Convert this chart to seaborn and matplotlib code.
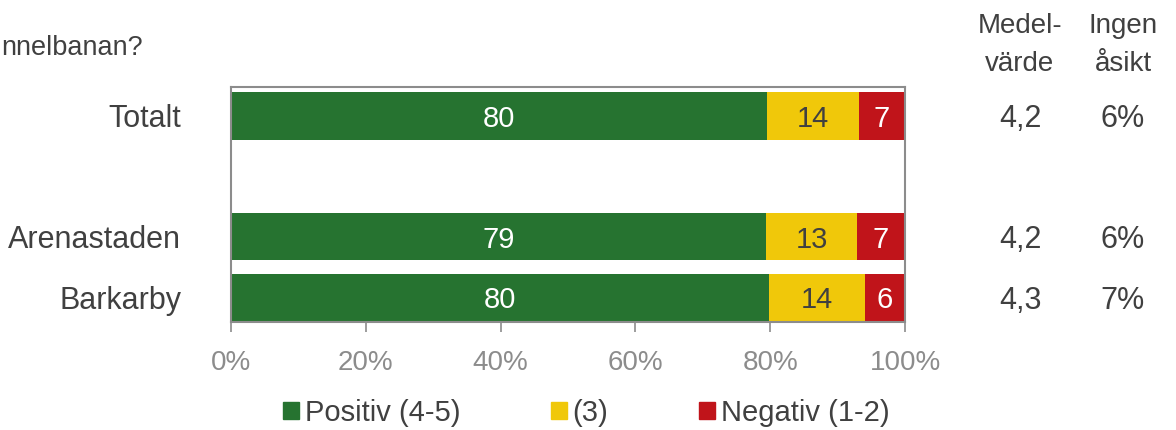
import numpy as np
import pandas as pd
import matplotlib
matplotlib.use('Agg')
import matplotlib.pyplot as plt
import matplotlib.transforms as mtransforms
from matplotlib.patches import Patch
import seaborn as sns

# Data
categories = ['Totalt', 'Arenastaden', 'Barkarby']
positiv = [79.5, 79.4, 79.8]
neutral = [13.7, 13.5, 14.3]
negativ = [6.8, 7.1, 5.9]
positiv_lbl = [80, 79, 80]
neutral_lbl = [14, 13, 14]
negativ_lbl = [7, 7, 6]
medelvarde = ['4,2', '4,2', '4,3']
ingen_asikt = ['6%', '6%', '7%']

# blank slot between Totalt and the areas
order = ['Totalt', ' ', 'Arenastaden', 'Barkarby']

green = '#267330'
yellow = '#F0C80A'
red = '#C0141A'
text_col = '#404040'
axis_col = '#8C8C8C'

sns.set_style('white')
plt.rcParams['font.family'] = ['Liberation Sans', 'DejaVu Sans']

df = pd.DataFrame({'kategori': categories, 'pos': positiv, 'neu': neutral, 'neg': negativ})
df['cum1'] = df['pos']
df['cum2'] = df['pos'] + df['neu']
df['cum3'] = df['cum2'] + df['neg']

fig = plt.figure(figsize=(11.76, 4.30), dpi=100)
ax = fig.add_axes([231 / 1176, 1 - 322 / 430, (905 - 231) / 1176, (322 - 87) / 430])

# stacked bars drawn as overlapping cumulative bars
for col, c in [('cum3', red), ('cum2', yellow), ('cum1', green)]:
    sns.barplot(data=df, x=col, y='kategori', order=order, orient='h', color=c,
                saturation=1, width=0.78, errorbar=None, linewidth=0, ax=ax)

ax.set_xlim(0, 100)
ax.set_ylim(3.41, -0.48)
ax.set_xticks(np.arange(0, 101, 20))
ax.set_xticklabels([f'{t}%' for t in range(0, 101, 20)])
ax.set_xlabel('')
ax.set_ylabel('')
ax.tick_params(axis='x', colors=axis_col, labelsize=20, length=7, width=1.2, direction='out', pad=13)
ax.tick_params(axis='y', length=0, labelsize=22, labelcolor=text_col, pad=36)
for lbl in ax.get_yticklabels():
    lbl.set_va('center_baseline')
ax.xaxis.set_ticks_position('bottom')
for s in ax.spines.values():
    s.set_visible(True)
    s.set_color(axis_col)
    s.set_linewidth(1.5)

# segment labels
ypos = {c: order.index(c) for c in categories}
for i, row in df.iterrows():
    y = ypos[row['kategori']]
    ax.text(row['pos'] / 2, y, str(positiv_lbl[i]), ha='center', va='center_baseline', fontsize=21, color='white')
    ax.text(row['cum1'] + row['neu'] / 2, y, str(neutral_lbl[i]), ha='center', va='center_baseline', fontsize=21, color=text_col)
    ax.text(row['cum2'] + row['neg'] / 2, y, str(negativ_lbl[i]), ha='center', va='center_baseline', fontsize=21, color='white')

# side columns
trans = mtransforms.blended_transform_factory(fig.transFigure, ax.transData)
for i, c in enumerate(categories):
    y = ypos[c]
    ax.text(1020 / 1176, y, medelvarde[i], transform=trans, ha='center', va='center_baseline', fontsize=22, color=text_col)
    ax.text(1123 / 1176, y, ingen_asikt[i], transform=trans, ha='center', va='center_baseline', fontsize=22, color=text_col)

fig.text(1020 / 1176, 1 - 45 / 430, 'Medel-\nvärde', ha='center', va='center', fontsize=20,
         color=text_col, linespacing=1.6)
fig.text(1123 / 1176, 1 - 45 / 430, 'Ingen\nåsikt', ha='center', va='center', fontsize=20,
         color=text_col, linespacing=1.6)

# question text, cut off at the left edge in the original
fig.text(1 / 1176, 1 - 45 / 430, 'nnelbanan?', ha='left', va='center_baseline', fontsize=19.5, color=text_col)

handles = [Patch(color=green), Patch(color=yellow), Patch(color=red)]
fig.legend(handles, ['Positiv (4-5)', '(3)', 'Negativ (1-2)'], loc='center',
           bbox_to_anchor=(586 / 1176, 1 - 413 / 430), ncol=3, frameon=False, fontsize=21,
           handlelength=0.55, handleheight=0.55, handletextpad=0.2, columnspacing=3.1,
           labelcolor=text_col)

fig.savefig('out.png', dpi=100)
